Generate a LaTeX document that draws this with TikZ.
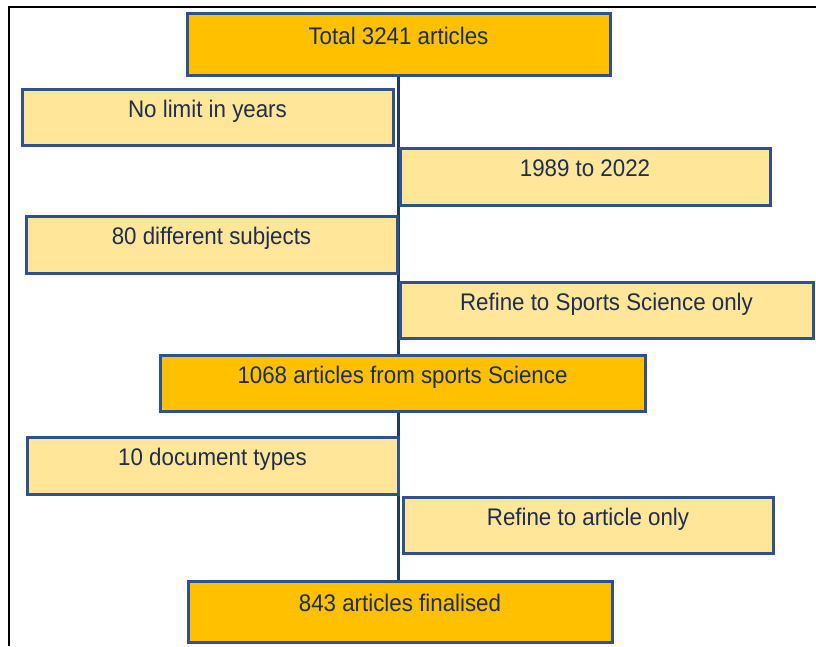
\documentclass[tikz,border=0pt]{standalone}
\usepackage{fontspec}
\newfontfamily\boxfont[FakeStretch=0.93]{Liberation Sans}
\usepackage{tikz}
\usetikzlibrary{positioning, backgrounds}

\definecolor{stageorange}{HTML}{FFC000}
\definecolor{steplight}{HTML}{FFE699}
\definecolor{edgeblue}{HTML}{2F528F}
\definecolor{trunkblue}{HTML}{1F3864}
\definecolor{inkblue}{HTML}{1F2D4E}

\begin{document}
\begin{tikzpicture}[
  x=1pt, y=-1pt,
  every node/.style={font=\boxfont\fontsize{24}{28}\selectfont, text=inkblue},
  stage/.style={
    rectangle, draw=edgeblue, line width=3pt,
    fill=stageorange, inner sep=0pt,
    text height=17pt, text depth=17pt, align=center,
  },
  filter/.style={
    rectangle, draw=edgeblue, line width=3pt,
    fill=steplight, inner sep=0pt,
    text height=17pt, text depth=17pt, align=center,
  },
  trunk/.style={line width=3pt, trunkblue},
]
  \useasboundingbox (0,0) rectangle (816,646);

  % outer frame
  \draw[line width=1.8pt, black] (9,646) -- (9,7) -- (816,7);

  % main stages
  \node[stage, minimum width=423pt, minimum height=62pt] (total) at (398.5,44) {Total 3241 articles};
  \node[stage, minimum width=485pt, minimum height=56pt] (sports) at (402.5,383) {1068 articles from sports Science};
  \node[stage, minimum width=424pt, minimum height=61pt] (final) at (400,611.5) {843 articles finalised};

  % left side: before
  \node[filter, minimum width=371pt, minimum height=56pt] (nolimit) at (207.5,117) {No limit in years};
  \node[filter, minimum width=371pt, minimum height=57pt] (subjects) at (211.5,244.5) {80 different subjects};
  \node[filter, minimum width=371pt, minimum height=57pt] (doctypes) at (212.5,465.5) {10 document types};

  % right side: refinements
  \node[filter, minimum width=370pt, minimum height=57pt] (years) at (585,176.5) {1989 to 2022};
  \node[filter, minimum width=413pt, minimum height=56pt] (refsports) at (606.5,310) {Refine to Sports Science only};
  \node[filter, minimum width=370pt, minimum height=56pt] (refarticle) at (588,525) {Refine to article only};

  % vertical trunk, behind the boxes
  \begin{scope}[on background layer]
    \draw[trunk] (total.south) -- (total.south |- final.north);
  \end{scope}

\end{tikzpicture}
\end{document}
